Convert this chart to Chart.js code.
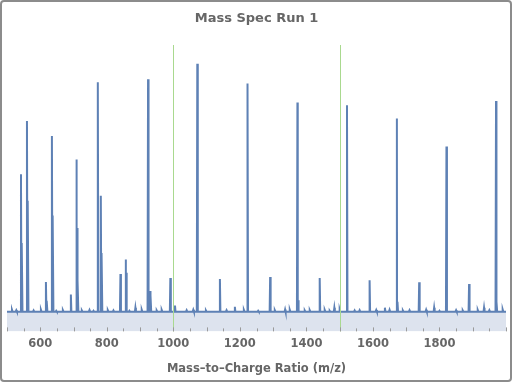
<!DOCTYPE html>
<html>
<head>
<meta charset="utf-8">
<script src="https://cdn.jsdelivr.net/npm/chart.js@4"></script>
<style>
  html, body { margin: 0; padding: 0; background: #fff; }
  #wrap { width: 513px; height: 383px; }
</style>
</head>
<body>
<div id="wrap"><canvas id="myChart" width="513" height="383"></canvas></div>
<script>
// peak positions (m/z) and intensities (% of tallest peak)
const peakMz = [542, 545, 560, 563, 617, 620, 635, 638, 692, 709, 711, 713, 773, 782, 785,
  841, 857, 859, 886, 924, 930, 932, 991, 1005, 1072, 1140, 1185, 1223, 1291, 1336,
  1373, 1375, 1440, 1484, 1522, 1590, 1636, 1672, 1674, 1739, 1784, 1821, 1889, 1934, 1970, 1972];
const peakInt = [55.6, 28, 77, 45, 12.3, 4.8, 71, 39, 7.3, 61.5, 34, 13, 92.5, 47, 24,
  15.5, 21.4, 16, 2, 93.7, 8.7, 7, 13.9, 2.9, 100, 13.5, 2.4, 92, 14.3, 1.3,
  84.4, 5, 13.9, 2, 83.3, 13, 2, 78, 4.4, 12.2, 2, 66.7, 11.5, 2, 85, 4.4];

// small bumps along the baseline
const noiseMz = [515, 528, 580, 602, 648, 668, 725, 748, 760, 803, 820, 868, 905, 950, 965,
  1040, 1060, 1098, 1160, 1212, 1255, 1305, 1350, 1395, 1410, 1455, 1470, 1500, 1545, 1560,
  1610, 1650, 1690, 1710, 1760, 1800, 1850, 1870, 1915, 1950, 1990];
const noiseInt = [1.2, 1.0, 0.9, 1.2, 0.8, 1.0, 0.9, 1.1, 0.8, 1.0, 0.9, 0.8, 1.2, 0.9, 1.1,
  1.0, 1.2, 0.9, 1.0, 1.1, 0.8, 1.0, 1.2, 0.9, 1.0, 1.1, 0.8, 1.3, 0.9, 1.0,
  1.1, 1.2, 0.9, 1.0, 1.2, 0.8, 1.0, 0.9, 1.1, 1.0, 1.3];

const tickValues = [600, 800, 1000, 1200, 1400, 1600, 1800];
const gridValues = [1000, 1500];
const baseLevel = 0.4;
const mzMin = 500, mzMax = 2000;

function buildSpectrum() {
  const pts = [{ x: mzMin, y: baseLevel }, { x: mzMax, y: baseLevel }];
  const addSpike = (m, h, hw) => {
    pts.push({ x: m - hw, y: baseLevel });
    pts.push({ x: m, y: h });
    pts.push({ x: m + hw, y: baseLevel });
  };
  peakMz.forEach((m, i) => addSpike(m, peakInt[i], 1.5));
  noiseMz.forEach((m, i) => addSpike(m, noiseInt[i], 2));
  pts.sort((a, b) => a.x - b.x);
  return pts;
}

const extras = {
  id: "extras",
  afterDatasetsDraw(chart) {
    const { ctx, chartArea, scales } = chart;
    const xs = scales.x;
    ctx.save();
    // green grid lines
    ctx.strokeStyle = "#a9d98f";
    ctx.lineWidth = 1;
    gridValues.forEach((v) => {
      const px = Math.round(xs.getPixelForValue(v)) + 0.5;
      ctx.beginPath();
      ctx.moveTo(px, chartArea.top);
      ctx.lineTo(px, chartArea.bottom);
      ctx.stroke();
    });
    // tick marks pointing up from the bottom
    ctx.strokeStyle = "#9a9a9a";
    for (let v = mzMin; v <= mzMax; v += 50) {
      const px = Math.round(xs.getPixelForValue(v)) + 0.5;
      const len = v % 100 === 0 ? 4 : 3;
      ctx.beginPath();
      ctx.moveTo(px, chartArea.bottom);
      ctx.lineTo(px, chartArea.bottom - len);
      ctx.stroke();
    }
    ctx.restore();
  },
  afterDraw(chart) {
    const ctx = chart.ctx;
    ctx.save();
    ctx.strokeStyle = "#8c8c8c";
    ctx.lineWidth = 2;
    ctx.beginPath();
    ctx.roundRect(1, 1, 510, 380, 3);
    ctx.stroke();
    ctx.restore();
  },
};

const ctx = document.getElementById("myChart").getContext("2d");
new Chart(ctx, {
  type: "line",
  data: {
    datasets: [
      {
        label: "Mass Spec Run 1",
        data: buildSpectrum(),
        borderColor: "#5e81b5",
        backgroundColor: "#dde3ee",
        borderWidth: 2,
        pointRadius: 0,
        tension: 0,
        fill: "start",
      },
    ],
  },
  options: {
    responsive: false,
    animation: false,
    layout: { padding: { left: 7, right: 7, top: 0, bottom: 0 } },
    scales: {
      x: {
        type: "linear",
        min: mzMin,
        max: mzMax,
        afterBuildTicks: (scale) => {
          scale.ticks = tickValues.map((v) => ({ value: v }));
        },
        grid: { display: false, drawTicks: false },
        border: { display: false },
        ticks: {
          padding: 6,
          color: "#666",
          maxRotation: 0,
          font: { family: "DejaVu Sans", size: 11.5, weight: "bold" },
          callback: (v) => String(v),
        },
        title: {
          display: true,
          text: "Mass–to–Charge Ratio (m/z)",
          color: "#666",
          padding: { top: 5, bottom: 7 },
          font: { family: "DejaVu Sans", size: 11.5, weight: "bold" },
        },
      },
      y: {
        display: false,
        min: -7.5,
        max: 107.5,
      },
    },
    plugins: {
      legend: { display: false },
      tooltip: { enabled: false },
      title: {
        display: true,
        text: "Mass Spec Run 1",
        color: "#666",
        padding: { top: 11, bottom: 18.4 },
        font: { family: "DejaVu Sans", size: 13, weight: "bold" },
      },
    },
  },
  plugins: [extras],
});
</script>
</body>
</html>
